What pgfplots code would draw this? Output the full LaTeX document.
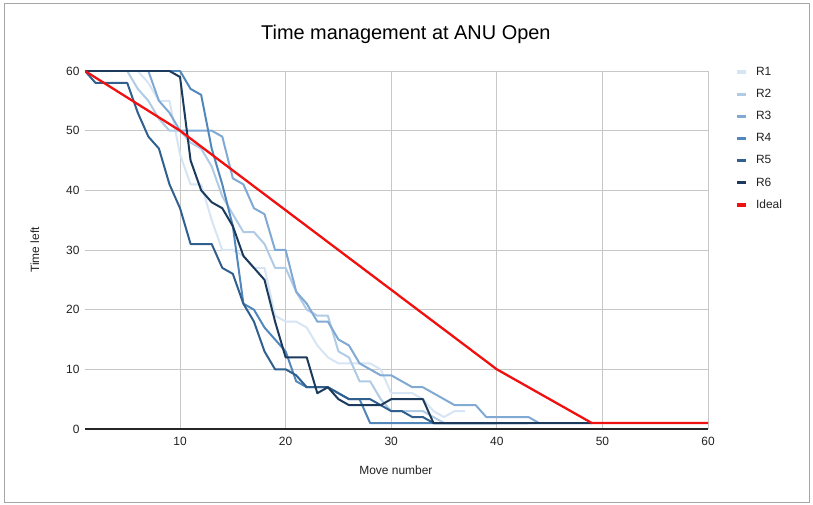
\documentclass[border=0pt]{standalone}
\usepackage{pgfplots}
\pgfplotsset{compat=1.18}
\usepackage{fontspec}
\setmainfont{Liberation Sans}
\definecolor{cR1}{HTML}{D6E4F3}
\definecolor{cR2}{HTML}{B0CBE6}
\definecolor{cR3}{HTML}{80A9D3}
\definecolor{cR4}{HTML}{5287BB}
\definecolor{cR5}{HTML}{31608F}
\definecolor{cR6}{HTML}{1B3A5C}
\definecolor{cIdeal}{HTML}{F01010}
\definecolor{txt}{HTML}{222222}
\begin{document}
\begin{tikzpicture}[x=1bp,y=1bp]
\useasboundingbox (0,0) rectangle (813,505);
\draw[black!35, line width=0.8bp] (4,3) rectangle (809,502);
\begin{axis}[
  at={(85bp,76bp)}, anchor=south west,
  scale only axis, width=623bp, height=358bp,
  xmin=1, xmax=60, ymin=0, ymax=60,
  xtick={10,20,...,60}, ytick={0,10,...,60},
  grid=major,
  major grid style={draw=black!22, line width=0.8bp},
  axis line style={draw=none},
  major tick length=0pt,
  extra y ticks={0}, extra y tick labels={},
  extra y tick style={major grid style={draw=black!85, line width=1.3bp}},
  tick label style={font=\fontsize{12}{14}\selectfont, text=txt},
  /pgf/number format/assume math mode=true,
  xticklabel style={yshift=-5bp},
  yticklabel style={xshift=-2bp},
  title={Time management at ANU Open},
  title style={at={(axis description cs:0.515,1.0866)}, anchor=center, font=\fontsize{20}{24}\selectfont, text=black},
  xlabel={Move number},
  xlabel style={at={(axis description cs:0.499,-0.1145)}, anchor=center, font=\fontsize{12}{14}\selectfont, text=txt},
  ylabel={Time left},
  ylabel style={at={(axis description cs:-0.0803,0.5)}, anchor=center, rotate=0, font=\fontsize{12}{14}\selectfont, text=txt},
  legend style={at={(axis description cs:1.0433,1.0136)}, anchor=north west, draw=none, fill=none,
    font=\fontsize{12}{14}\selectfont, text=txt, row sep=10.3bp, inner sep=0pt,
    nodes={inner sep=1bp}},
  legend cell align=left,
  legend image code/.code={\draw[line width=3.5bp, #1] (0bp,0bp) -- (9bp,0bp); \path (17bp,0bp);},
  every axis plot/.append style={line width=2bp, line join=round},
]
\addplot[cR1, mark=none] coordinates {(1,60)(2,60)(3,60)(4,60)(5,60)(6,60)(7,58)(8,55)(9,55)(10,46)(11,41)(12,41)(13,35)(14,30)(15,30)(16,29)(17,27)(18,27)(19,19)(20,18)(21,18)(22,17)(23,14)(24,12)(25,11)(26,11)(27,11)(28,11)(29,10)(30,6)(31,6)(32,6)(33,5)(34,3)(35,2)(36,3)(37,3)};
\addlegendentry{R1}
\addplot[cR2, mark=none] coordinates {(1,60)(2,60)(3,60)(4,60)(5,60)(6,57)(7,55)(8,52)(9,50)(10,50)(11,48)(12,47)(13,44)(14,39)(15,36)(16,33)(17,33)(18,31)(19,27)(20,27)(21,23)(22,20)(23,19)(24,19)(25,13)(26,12)(27,8)(28,8)(29,5)(30,3)(31,3)(32,3)(33,3)(34,2)(35,1)(36,1)(37,1)(38,1)(39,1)(40,1)};
\addlegendentry{R2}
\addplot[cR3, mark=none] coordinates {(1,60)(2,60)(3,60)(4,60)(5,60)(6,60)(7,60)(8,55)(9,53)(10,50)(11,50)(12,50)(13,50)(14,49)(15,42)(16,41)(17,37)(18,36)(19,30)(20,30)(21,23)(22,21)(23,18)(24,18)(25,15)(26,14)(27,11)(28,10)(29,9)(30,9)(31,8)(32,7)(33,7)(34,6)(35,5)(36,4)(37,4)(38,4)(39,2)(40,2)(41,2)(42,2)(43,2)(44,1)};
\addlegendentry{R3}
\addplot[cR4, mark=none] coordinates {(1,60)(2,60)(3,60)(4,60)(5,60)(6,60)(7,60)(8,60)(9,60)(10,60)(11,57)(12,56)(13,47)(14,41)(15,34)(16,21)(17,20)(18,17)(19,15)(20,13)(21,8)(22,7)(23,7)(24,7)(25,6)(26,5)(27,5)(28,1)(29,1)(30,1)(31,1)(32,1)(33,1)(34,1)(35,1)(36,1)(37,1)(38,1)(39,1)(40,1)(41,1)(42,1)(43,1)};
\addlegendentry{R4}
\addplot[cR5, mark=none] coordinates {(1,60)(2,58)(3,58)(4,58)(5,58)(6,53)(7,49)(8,47)(9,41)(10,37)(11,31)(12,31)(13,31)(14,27)(15,26)(16,21)(17,18)(18,13)(19,10)(20,10)(21,9)(22,7)(23,7)(24,7)(25,6)(26,5)(27,5)(28,5)(29,4)(30,3)(31,3)(32,2)(33,2)(34,1)(35,1)(36,1)(37,1)(38,1)(39,1)(40,1)};
\addlegendentry{R5}
\addplot[cR6, mark=none] coordinates {(1,60)(2,60)(3,60)(4,60)(5,60)(6,60)(7,60)(8,60)(9,60)(10,59)(11,45)(12,40)(13,38)(14,37)(15,34)(16,29)(17,27)(18,25)(19,18)(20,12)(21,12)(22,12)(23,6)(24,7)(25,5)(26,4)(27,4)(28,4)(29,4)(30,5)(31,5)(32,5)(33,5)(34,1)(35,1)(36,1)(37,1)(38,1)(39,1)(40,1)(41,1)(42,1)(43,1)(44,1)(45,1)(46,1)(47,1)(48,1)(49,1)};
\addlegendentry{R6}
\addplot[cIdeal, mark=none, line width=2.3bp] coordinates {(1,60)(10,50)(40,10)(49,1)(60,1)};
\addlegendentry{Ideal}
\end{axis}
\end{tikzpicture}
\end{document}
